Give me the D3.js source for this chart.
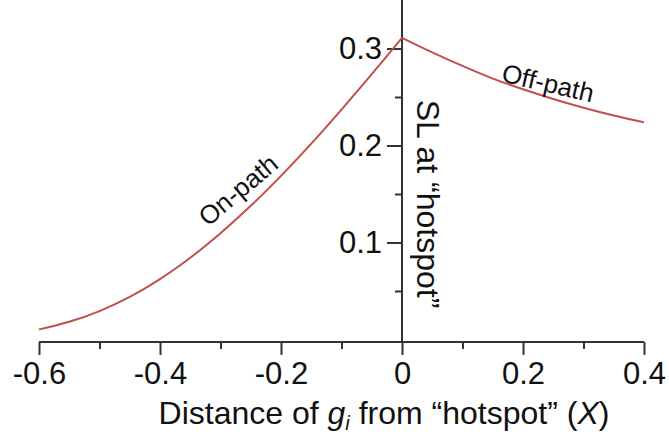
<!DOCTYPE html>
<html>
<head>
<meta charset="utf-8">
<script src="https://cdn.jsdelivr.net/npm/d3@7"></script>
<style>
  html, body { margin: 0; padding: 0; background: #fff; }
  svg { display: block; }
  text { font-family: "Liberation Sans", Arial, Helvetica, sans-serif; fill: #111; }
</style>
</head>
<body>
<svg id="chart" width="669" height="441"></svg>
<script>
// SL at the hotspot as a function of the distance of g_i from the hotspot
const onPathX = [-0.6, -0.55, -0.5, -0.45, -0.4, -0.35, -0.3, -0.25, -0.2, -0.15, -0.1, -0.05, 0];
const onPathY = [0.0104, 0.0182, 0.0293, 0.0439, 0.0623, 0.0843, 0.1096, 0.1378, 0.1687, 0.2019, 0.2370, 0.2735, 0.311];
const offPathX = [0, 0.05, 0.1, 0.15, 0.2, 0.25, 0.3, 0.35, 0.4];
const offPathY = [0.311, 0.296, 0.282, 0.269, 0.258, 0.248, 0.239, 0.231, 0.224];

const xMajorTicks = [-0.6, -0.4, -0.2, 0, 0.2, 0.4];
const xMinorTicks = [-0.5, -0.3, -0.1, 0.1, 0.3];
const xTickLabels = ["-0.6", "-0.4", "-0.2", "0", "0.2", "0.4"];
const yMajorTicks = [0.1, 0.2, 0.3];
const yMinorTicks = [0.05, 0.15, 0.25];
const yTickLabels = ["0.1", "0.2", "0.3"];

const lineColor = "#c0504d";
const axisColor = "#333";

const svg = d3.select("#chart");

const x = d3.scaleLinear().domain([-0.6, 0.4]).range([39, 644]);
const y = d3.scaleLinear().domain([-0.0026, 0.35]).range([342, 0]);
const baseY = y.range()[0];

// axis lines: the vertical one sits at X = 0 and runs to the top edge
svg.append("line")
  .attr("x1", x(-0.6)).attr("x2", x(0.4))
  .attr("y1", baseY).attr("y2", baseY)
  .attr("stroke", axisColor).attr("stroke-width", 2);
svg.append("line")
  .attr("x1", x(0)).attr("x2", x(0))
  .attr("y1", baseY).attr("y2", y(0.35))
  .attr("stroke", axisColor).attr("stroke-width", 2);

function styleAxis(g) {
  g.select(".domain").remove();
  g.selectAll(".tick line").attr("stroke", axisColor).attr("stroke-width", 2);
  g.selectAll(".tick text").attr("fill", "#111")
    .style("font-family", '"Liberation Sans", Arial, sans-serif')
    .style("font-size", "31px");
}

// x axis: minor then major ticks
svg.append("g").attr("transform", `translate(0,${baseY})`)
  .call(d3.axisBottom(x).tickValues(xMinorTicks).tickSize(7).tickFormat(""))
  .call(styleAxis);
svg.append("g").attr("transform", `translate(0,${baseY})`)
  .call(d3.axisBottom(x).tickValues(xMajorTicks).tickSize(13).tickPadding(7)
    .tickFormat((d, i) => xTickLabels[i]))
  .call(styleAxis);

// y axis, ticks pointing left
svg.append("g").attr("transform", `translate(${x(0)},0)`)
  .call(d3.axisLeft(y).tickValues(yMinorTicks).tickSize(7).tickFormat(""))
  .call(styleAxis);
svg.append("g").attr("transform", `translate(${x(0)},0)`)
  .call(d3.axisLeft(y).tickValues(yMajorTicks).tickSize(15).tickPadding(5)
    .tickFormat((d, i) => yTickLabels[i]))
  .call(styleAxis);

// curves
const line = d3.line().x(d => x(d[0])).y(d => y(d[1])).curve(d3.curveCatmullRom.alpha(0.5));
const onPath = onPathX.map((v, i) => [v, onPathY[i]]);
const offPath = offPathX.map((v, i) => [v, offPathY[i]]);
[onPath, offPath].forEach(pts => {
  svg.append("path").datum(pts)
    .attr("d", line)
    .attr("fill", "none")
    .attr("stroke", lineColor)
    .attr("stroke-width", 2);
});

// curve labels
svg.append("text")
  .attr("transform", `translate(238,190) rotate(-40)`)
  .attr("text-anchor", "middle").attr("dy", "0.35em")
  .style("font-size", "26px")
  .text("On-path");
svg.append("text")
  .attr("transform", `translate(548,83) rotate(13)`)
  .attr("text-anchor", "middle").attr("dy", "0.35em")
  .style("font-size", "26px")
  .text("Off-path");

// y-axis title, reading downward beside the axis
svg.append("text")
  .attr("transform", `translate(428,204) rotate(90)`)
  .attr("text-anchor", "middle").attr("dy", "0.35em")
  .style("font-size", "32px")
  .text("SL at \u201Chotspot\u201D");

// x-axis title with italic g_i and X
const xt = svg.append("text")
  .attr("x", 384).attr("y", 424)
  .attr("text-anchor", "middle")
  .style("font-size", "32px");
xt.append("tspan").text("Distance of ");
xt.append("tspan").style("font-style", "italic").text("g");
xt.append("tspan").style("font-style", "italic").style("font-size", "20px").attr("dy", 6).text("i");
xt.append("tspan").attr("dy", -6).text(" from \u201Chotspot\u201D (");
xt.append("tspan").style("font-style", "italic").text("X");
xt.append("tspan").text(")");
</script>
</body>
</html>
